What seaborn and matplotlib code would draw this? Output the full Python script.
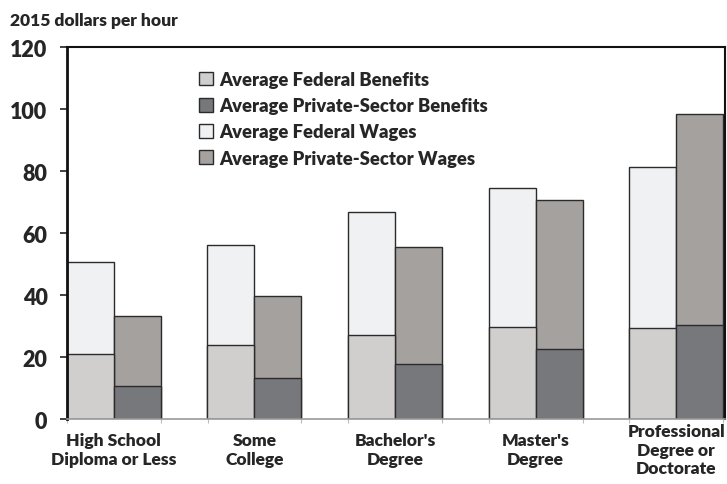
import pandas as pd
import matplotlib.pyplot as plt
import seaborn as sns
import numpy as np
from matplotlib.patches import Patch

# Chart data (2015 dollars per hour)
categories = ["High School\nDiploma or Less", "Some\nCollege", "Bachelor's\nDegree",
              "Master's\nDegree", "Professional\nDegree or\nDoctorate"]
federal_benefits = [21, 24, 27.2, 29.6, 29.4]
federal_wages = [29.8, 32, 39.6, 45, 51.8]
private_benefits = [10.8, 13.3, 17.8, 22.6, 30.4]
private_wages = [22.4, 26.3, 37.7, 48.2, 68.1]

sectors = ["Federal", "Private"]

# long-format table for seaborn
rows = []
for i, cat in enumerate(categories):
    rows.append({"category": cat, "sector": "Federal",
                 "benefits": federal_benefits[i],
                 "total": federal_benefits[i] + federal_wages[i]})
    rows.append({"category": cat, "sector": "Private",
                 "benefits": private_benefits[i],
                 "total": private_benefits[i] + private_wages[i]})
df = pd.DataFrame(rows)

sns.set_style("white")
plt.rcParams['font.family'] = ['Lato', 'DejaVu Sans']
plt.rcParams['font.weight'] = 'bold'

fig = plt.figure(figsize=(7.27, 4.85), dpi=100)
ax = fig.add_axes([0.092, 0.134, 0.905, 0.767])

wage_colors = {"Federal": "#f0f1f3", "Private": "#a5a19f"}
ben_colors = {"Federal": "#d0cfcd", "Private": "#77787c"}
edge = "#2b2b2b"

# total height drawn in wage colour, then benefits over it
sns.barplot(data=df, x="category", y="total", hue="sector", hue_order=sectors,
            palette=wage_colors, width=0.667, ax=ax, legend=False,
            edgecolor=edge, linewidth=1.0, saturation=1)
sns.barplot(data=df, x="category", y="benefits", hue="sector", hue_order=sectors,
            palette=ben_colors, width=0.667, ax=ax, legend=False,
            edgecolor=edge, linewidth=1.0, saturation=1)

ax.set_xlim(-0.333, 4.345)
ax.set_ylim(0, 120)
ax.set_yticks(np.arange(0, 121, 20))
ax.set_xlabel("")
ax.set_ylabel("")

ax.tick_params(axis='y', which='major', left=True, length=5, width=1.2,
               color='#222222', labelsize=15.5, pad=9)
ax.tick_params(axis='x', which='major', length=0, labelsize=12.5, pad=22)
ax.set_xticks(np.arange(-1/3, 4.4, 1/3), minor=True)
ax.tick_params(axis='x', which='minor', bottom=True, length=3, width=0.8,
               color='#bbbbbb')
for lab in ax.get_yticklabels():
    lab.set_fontweight('heavy')
for lab in ax.get_xticklabels():
    lab.set_fontweight('heavy')
    lab.set_linespacing(1.2)
    lab.set_verticalalignment('center')

for side in ['left', 'top', 'right']:
    ax.spines[side].set_visible(True)
    ax.spines[side].set_color('#111111')
ax.spines['left'].set_linewidth(2.0)
ax.spines['top'].set_linewidth(1.5)
ax.spines['right'].set_linewidth(1.5)
ax.spines['bottom'].set_color('#999999')
ax.spines['bottom'].set_linewidth(1.2)

handles = [
    Patch(facecolor=ben_colors["Federal"], edgecolor=edge, label="Average Federal Benefits"),
    Patch(facecolor=ben_colors["Private"], edgecolor=edge, label="Average Private-Sector Benefits"),
    Patch(facecolor=wage_colors["Federal"], edgecolor=edge, label="Average Federal Wages"),
    Patch(facecolor=wage_colors["Private"], edgecolor=edge, label="Average Private-Sector Wages"),
]
ax.legend(handles=handles, loc='upper left', bbox_to_anchor=(0.19, 0.955),
          frameon=False, prop={'weight': 'heavy', 'size': 13.2},
          handlelength=0.75, handleheight=0.75, handletextpad=0.35,
          labelspacing=0.5, borderaxespad=0)

fig.text(0.014, 0.957, "2015 dollars per hour", fontsize=12.5,
         fontweight='heavy', ha='left', va='center')

plt.savefig("out.png", dpi=100)
plt.close()
